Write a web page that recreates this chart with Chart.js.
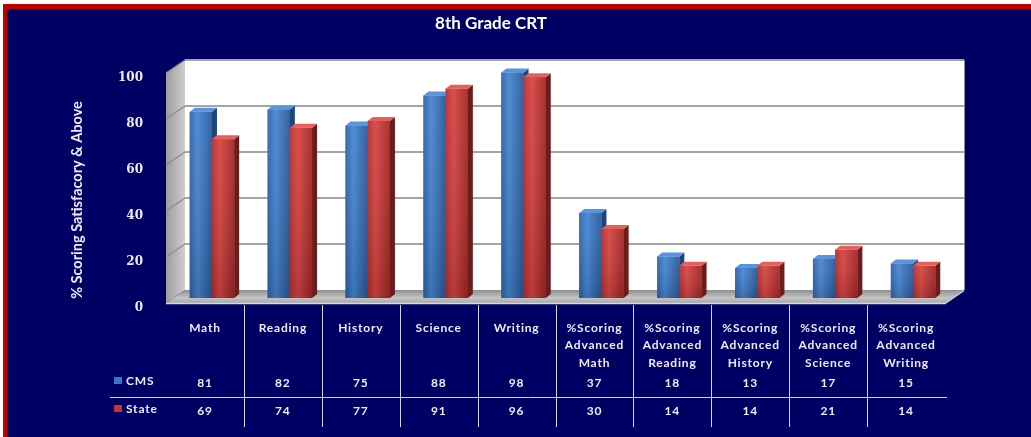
<!DOCTYPE html>
<html>
<head>
<meta charset="utf-8">
<script src="https://cdn.jsdelivr.net/npm/chart.js@4.4.1/dist/chart.umd.min.js"></script>
<style>
  html, body { margin: 0; padding: 0; background: #ffffff; }
  #chartBox { width: 1031px; height: 437px; }
</style>
</head>
<body>
<div id="chartBox"><canvas id="crtChart" width="1031" height="437"></canvas></div>
<script>
let chartTitle = "8th Grade CRT";
let yAxisTitle = "% Scoring Satisfacory & Above";
let categories = [
  ["Math"],
  ["Reading"],
  ["History"],
  ["Science"],
  ["Writing"],
  ["%Scoring", "Advanced", "Math"],
  ["%Scoring", "Advanced", "Reading"],
  ["%Scoring", "Advanced", "History"],
  ["%Scoring", "Advanced", "Science"],
  ["%Scoring", "Advanced", "Writing"],
];
let seriesNames = ["CMS", "State"];
let cmsScores = [81, 82, 75, 88, 98, 37, 18, 13, 17, 15];
let stateScores = [69, 74, 77, 91, 96, 30, 14, 14, 21, 14];
let yTicks = [0, 20, 40, 60, 80, 100];

// 3d look: back wall offset and how far the bars sit behind the front edge
const wallDx = 19, wallDy = -13;
const barShiftX = 7, barShiftY = -5;
const sideDx = 5, sideDy = -4;

const navy = "#000064";
const textWhite = "#ececf6";
const barColors = {
  CMS: { front: ["#2d63aa", "#4586d2", "#2a5898"], top: "#5a95dc", side: "#1c457e", key: "#3a74c4" },
  State: { front: ["#b42d2d", "#d64442", "#a02626"], top: "#e4605a", side: "#6e1b1b", key: "#c83232" },
};

let drawBar3d = (ctx, p, c) => {
  let l = p.x - p.width / 2;
  let r = p.x + p.width / 2;
  let g = ctx.createLinearGradient(l, 0, r, 0);
  g.addColorStop(0, c.front[0]);
  g.addColorStop(0.35, c.front[1]);
  g.addColorStop(1, c.front[2]);
  ctx.fillStyle = g;
  ctx.fillRect(l, p.y, p.width, p.base - p.y);
  let shade = ctx.createLinearGradient(0, p.y, 0, p.base);
  shade.addColorStop(0, "rgba(255,255,255,0.06)");
  shade.addColorStop(1, "rgba(0,0,0,0.14)");
  ctx.fillStyle = shade;
  ctx.fillRect(l, p.y, p.width, p.base - p.y);
  // side face
  ctx.fillStyle = c.side;
  ctx.beginPath();
  ctx.moveTo(r, p.y);
  ctx.lineTo(r + sideDx, p.y + sideDy);
  ctx.lineTo(r + sideDx, p.base + sideDy);
  ctx.lineTo(r, p.base);
  ctx.closePath();
  ctx.fill();
  // top face
  ctx.fillStyle = c.top;
  ctx.beginPath();
  ctx.moveTo(l, p.y);
  ctx.lineTo(r, p.y);
  ctx.lineTo(r + sideDx, p.y + sideDy);
  ctx.lineTo(l + sideDx, p.y + sideDy);
  ctx.closePath();
  ctx.fill();
};

const backdrop = {
  id: "backdrop",
  beforeDraw(chart) {
    const ctx = chart.ctx;
    const yScale = chart.scales.y;
    const area = chart.chartArea;
    ctx.save();
    ctx.fillStyle = "#ffffff";
    ctx.fillRect(0, 0, chart.width, chart.height);
    ctx.fillStyle = "#c00000";
    ctx.fillRect(3, 4, chart.width, chart.height);
    ctx.fillStyle = navy;
    ctx.fillRect(7, 9, chart.width, chart.height);

    let fl = area.left - barShiftX;
    let fr = area.right - barShiftX;
    let y0 = yScale.getPixelForValue(0) - barShiftY;
    let yTop = yScale.getPixelForValue(100) - barShiftY;

    // back wall
    ctx.fillStyle = "#ffffff";
    ctx.fillRect(fl + wallDx, yTop + wallDy, fr - fl, y0 - yTop);

    // left side wall
    let sideGrad = ctx.createLinearGradient(fl, 0, fl + wallDx, 0);
    sideGrad.addColorStop(0, "#9c9c9c");
    sideGrad.addColorStop(1, "#cfcfcf");
    ctx.fillStyle = sideGrad;
    ctx.beginPath();
    ctx.moveTo(fl, y0);
    ctx.lineTo(fl, yTop);
    ctx.lineTo(fl + wallDx, yTop + wallDy);
    ctx.lineTo(fl + wallDx, y0 + wallDy);
    ctx.closePath();
    ctx.fill();

    // floor
    let floorGrad = ctx.createLinearGradient(0, y0 + wallDy, 0, y0);
    floorGrad.addColorStop(0, "#8e8e8e");
    floorGrad.addColorStop(0.6, "#c4c4c4");
    floorGrad.addColorStop(1, "#a8a8a8");
    ctx.fillStyle = floorGrad;
    ctx.beginPath();
    ctx.moveTo(fl, y0);
    ctx.lineTo(fr, y0);
    ctx.lineTo(fr + wallDx, y0 + wallDy);
    ctx.lineTo(fl + wallDx, y0 + wallDy);
    ctx.closePath();
    ctx.fill();
    ctx.strokeStyle = "#d8d8d8";
    ctx.lineWidth = 1.5;
    ctx.beginPath();
    ctx.moveTo(fl, y0 + 0.5);
    ctx.lineTo(fr, y0 + 0.5);
    ctx.lineTo(fr + wallDx, y0 + wallDy + 0.5);
    ctx.stroke();

    // grid lines on back wall and side wall
    yTicks.forEach((v) => {
      if (v === 0) return;
      let yf = yScale.getPixelForValue(v) - barShiftY;
      let yb = yf + wallDy;
      ctx.strokeStyle = "#a4a4a4";
      ctx.lineWidth = 2;
      ctx.beginPath();
      ctx.moveTo(fl + wallDx, yb);
      ctx.lineTo(fr + wallDx, yb);
      ctx.stroke();
      ctx.strokeStyle = "#8a8a8a";
      ctx.lineWidth = 1.2;
      ctx.beginPath();
      ctx.moveTo(fl, yf);
      ctx.lineTo(fl + wallDx, yb);
      ctx.stroke();
    });
    ctx.strokeStyle = "#8c8c9c";
    ctx.lineWidth = 1;
    ctx.beginPath();
    ctx.moveTo(fr + wallDx + 0.5, yTop + wallDy);
    ctx.lineTo(fr + wallDx + 0.5, y0 + wallDy);
    ctx.stroke();
    ctx.restore();
  },
  afterDatasetsDraw(chart) {
    const ctx = chart.ctx;
    const metas = chart.data.datasets.map((ds, i) => chart.getDatasetMeta(i));
    ctx.save();
    // per category: CMS first, then State in front of its side face
    categories.forEach((cat, i) => {
      metas.forEach((meta, d) => {
        const bar = meta.data[i];
        const p = bar.getProps(["x", "y", "base", "width"], true);
        drawBar3d(ctx, p, barColors[seriesNames[d]]);
      });
    });
    ctx.restore();
  },
  afterDraw(chart) {
    const ctx = chart.ctx;
    const xScale = chart.scales.x;
    ctx.save();
    ctx.fillStyle = "#ffffff";
    ctx.textAlign = "center";
    ctx.textBaseline = "middle";
    ctx.font = "bold 17px Lato";
    ctx.fillText(chartTitle, 491, 24);

    // y axis title
    ctx.save();
    ctx.translate(77, 200);
    ctx.rotate(-Math.PI / 2);
    ctx.font = "bold 14.5px Lato";
    ctx.fillStyle = textWhite;
    ctx.fillText(yAxisTitle, 0, 0);
    ctx.restore();

    // data table under the plot
    let colW = xScale.width / categories.length;
    let centers = categories.map((cat, i) => xScale.getPixelForValue(i) - barShiftX);
    ctx.strokeStyle = "#d4d4e8";
    ctx.lineWidth = 1;
    for (let i = 0; i < categories.length - 1; i++) {
      let x = Math.round(centers[i] + colW / 2) + 0.5;
      ctx.beginPath();
      ctx.moveTo(x, 305);
      ctx.lineTo(x, 427);
      ctx.stroke();
    }
    ctx.beginPath();
    ctx.moveTo(110, 397.5);
    ctx.lineTo(centers[centers.length - 1] + colW / 2 + 2, 397.5);
    ctx.stroke();

    ctx.font = "bold 12px Lato";
    ctx.letterSpacing = "0.8px";
    ctx.fillStyle = textWhite;
    categories.forEach((cat, i) => {
      cat.forEach((line, k) => {
        ctx.fillText(line, centers[i], 328 + k * 17.5);
      });
      ctx.fillText(String(cmsScores[i]), centers[i], 383);
      ctx.fillText(String(stateScores[i]), centers[i], 411);
    });

    // legend keys in the table
    let rowY = [380, 408];
    seriesNames.forEach((name, i) => {
      ctx.fillStyle = barColors[name].key;
      ctx.fillRect(114, rowY[i] - 3, 8, 7);
      ctx.fillStyle = textWhite;
      ctx.textAlign = "left";
      ctx.fillText(name, 126, rowY[i] + 1);
    });
    ctx.restore();
  },
};

const crtCanvas = document.getElementById("crtChart").getContext("2d");
const crtChart = new Chart(crtCanvas, {
  type: "bar",
  data: {
    labels: categories,
    datasets: [
      {
        label: seriesNames[0],
        data: cmsScores,
        backgroundColor: barColors.CMS.key,
      },
      {
        label: seriesNames[1],
        data: stateScores,
        backgroundColor: barColors.State.key,
      },
    ],
  },
  options: {
    responsive: false,
    animation: false,
    layout: {
      padding: { left: 60, right: 79, top: 68, bottom: 139 },
    },
    datasets: {
      bar: {
        categoryPercentage: 0.57,
        barPercentage: 1.0,
      },
    },
    scales: {
      x: {
        display: false,
      },
      y: {
        min: 0,
        max: 100,
        afterFit: (scale) => {
          scale.width = 113;
        },
        afterBuildTicks: (scale) => {
          scale.ticks = yTicks.map((v) => ({ value: v }));
        },
        grid: { display: false, drawTicks: false },
        border: { display: false },
        ticks: {
          color: textWhite,
          padding: 30,
          labelOffset: 10,
          font: { family: "DejaVu Serif", weight: "bold", size: 12 },
        },
      },
    },
    plugins: {
      legend: { display: false },
      tooltip: { enabled: false },
    },
  },
  plugins: [backdrop],
});
</script>
</body>
</html>
